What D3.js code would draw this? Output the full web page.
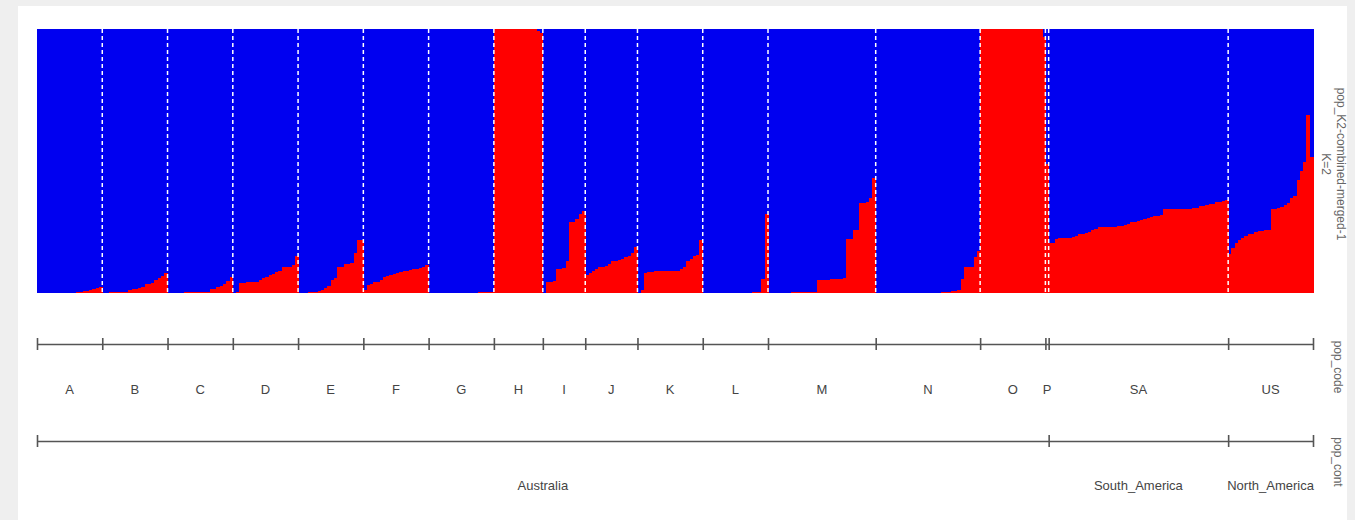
<!DOCTYPE html>
<html>
<head>
<meta charset="utf-8">
<script src="https://cdn.jsdelivr.net/npm/d3@7"></script>
<style>
  body { margin: 0; background: #efefef; }
  svg { display: block; font-family: "Liberation Sans", Arial, sans-serif; }
</style>
</head>
<body>
<svg id="chart"></svg>
<script>
const width = 1355;
const height = 520;
const margin = { left: 37, right: 42, top: 29 };
const plotBottom = 293;

// population codes and the continent each one belongs to
const popCodes = ["A", "B", "C", "D", "E", "F", "G", "H", "I", "J", "K", "L", "M", "N", "O", "P", "SA", "US"];
const popConts = [
  "Australia", "Australia", "Australia", "Australia", "Australia", "Australia",
  "Australia", "Australia", "Australia", "Australia", "Australia", "Australia",
  "Australia", "Australia", "Australia", "Australia", "South_America", "North_America",
];
const contNames = ["Australia", "South_America", "North_America"];

// membership in cluster 2 (red) per individual, cluster 1 (blue) is the rest
const qA = [0, 0, 0, 0, 0, 0, 0, 0, 0, 0, 0, 0, 0.003, 0.004, 0.006, 0.008, 0.01, 0.015, 0.02, 0.022];
const qB = [0.001, 0.001, 0.002, 0.002, 0.003, 0.003, 0.004, 0.005, 0.01, 0.014, 0.015, 0.02, 0.024, 0.033, 0.035, 0.038, 0.05, 0.055, 0.065, 0.076];
const qC = [0, 0, 0, 0, 0.001, 0.002, 0.002, 0.003, 0.003, 0.003, 0.004, 0.004, 0.005, 0.016, 0.016, 0.022, 0.025, 0.035, 0.045, 0.06];
const qD = [0, 0.005, 0.037, 0.037, 0.042, 0.042, 0.042, 0.043, 0.05, 0.055, 0.06, 0.07, 0.072, 0.08, 0.085, 0.1, 0.1, 0.1, 0.105, 0.14];
const qE = [0, 0, 0, 0.002, 0.003, 0.005, 0.008, 0.01, 0.02, 0.025, 0.05, 0.055, 0.1, 0.1, 0.11, 0.11, 0.115, 0.15, 0.2, 0.2];
const qF = [0.01, 0.03, 0.035, 0.04, 0.04, 0.05, 0.06, 0.065, 0.07, 0.072, 0.075, 0.08, 0.082, 0.085, 0.088, 0.09, 0.09, 0.093, 0.1, 0.105];
const qG = [0, 0, 0, 0, 0, 0, 0, 0, 0, 0, 0, 0, 0, 0, 0.001, 0.002, 0.002, 0.003, 0.004, 0.005];
const qH = [1, 1, 1, 1, 1, 1, 1, 1, 1, 1, 1, 1, 1, 0.993, 0.985];
const qI = [0, 0.04, 0.04, 0.045, 0.09, 0.09, 0.095, 0.12, 0.27, 0.27, 0.28, 0.3, 0.31];
const qJ = [0.07, 0.075, 0.085, 0.09, 0.097, 0.1, 0.103, 0.11, 0.12, 0.122, 0.125, 0.13, 0.138, 0.14, 0.15, 0.175];
const qK = [0, 0.01, 0.075, 0.078, 0.08, 0.082, 0.082, 0.083, 0.083, 0.083, 0.083, 0.083, 0.085, 0.09, 0.1, 0.12, 0.13, 0.14, 0.145, 0.2];
const qL = [0, 0, 0, 0, 0, 0, 0, 0, 0, 0, 0, 0, 0, 0, 0, 0.002, 0.003, 0.005, 0.053, 0.3];
const qM = [0, 0, 0, 0, 0, 0, 0, 0.002, 0.003, 0.003, 0.004, 0.004, 0.005, 0.005, 0.005,
  0.05, 0.05, 0.05, 0.051, 0.052, 0.052, 0.053, 0.054, 0.055, 0.205, 0.205, 0.24, 0.24,
  0.34, 0.34, 0.345, 0.36, 0.434];
const qN = [0, 0, 0, 0, 0, 0, 0, 0, 0, 0, 0, 0, 0, 0, 0, 0, 0, 0, 0, 0,
  0.003, 0.004, 0.005, 0.006, 0.008, 0.01, 0.052, 0.097, 0.097, 0.1, 0.137, 0.16];
const qO = [1, 1, 1, 1, 1, 1, 1, 1, 1, 1, 1, 1, 1, 1, 1, 1, 1, 1, 1, 0.97];
const qP = [0.49];
const qSA = [0.19, 0.19, 0.205, 0.207, 0.207, 0.207, 0.208, 0.213, 0.215, 0.222, 0.222,
  0.226, 0.23, 0.239, 0.242, 0.249, 0.249, 0.25, 0.25, 0.25, 0.251, 0.252, 0.255, 0.258,
  0.262, 0.27, 0.27, 0.272, 0.275, 0.279, 0.283, 0.289, 0.29, 0.292, 0.295, 0.317, 0.317,
  0.318, 0.318, 0.318, 0.319, 0.319, 0.32, 0.32, 0.321, 0.322, 0.33, 0.331, 0.333, 0.336,
  0.338, 0.343, 0.345, 0.35, 0.352];
const qUS = [0.148, 0.17, 0.19, 0.2, 0.21, 0.215, 0.223, 0.225, 0.23, 0.236, 0.236, 0.237,
  0.238, 0.32, 0.32, 0.322, 0.325, 0.335, 0.342, 0.36, 0.369, 0.428, 0.462, 0.497, 0.674, 0.514];

const popValues = [qA, qB, qC, qD, qE, qF, qG, qH, qI, qJ, qK, qL, qM, qN, qO, qP, qSA, qUS];

const blue = "#0000f0";
const red = "#ff0000";
const axisColor = "#555";
const textColor = "#444";

const individuals = popValues.flatMap((vals, p) =>
  vals.map((q) => ({ pop: popCodes[p], q }))
);
individuals.forEach((d, i) => (d.i = i));

// cumulative boundaries of populations
const popBounds = [0];
popValues.forEach((v) => popBounds.push(popBounds[popBounds.length - 1] + v.length));
const total = popBounds[popBounds.length - 1];

const contBounds = [0];
contNames.forEach((c) => {
  const last = popConts.lastIndexOf(c);
  contBounds.push(popBounds[last + 1]);
});

const xScale = d3
  .scaleLinear()
  .domain([0, total])
  .range([margin.left, width - margin.right]);

const yScale = d3.scaleLinear().domain([0, 1]).range([plotBottom, margin.top]);

const svg = d3.select("#chart").attr("width", width).attr("height", height);

// white panel on grey page
svg
  .append("rect")
  .attr("x", 18)
  .attr("y", 6)
  .attr("width", 1329)
  .attr("height", height)
  .attr("fill", "#fff");

const bars = svg.append("g").attr("shape-rendering", "crispEdges");

bars
  .selectAll(".blue")
  .data(individuals)
  .join("rect")
  .attr("class", "blue")
  .attr("x", (d) => xScale(d.i))
  .attr("width", (d) => xScale(d.i + 1) - xScale(d.i) + 0.5)
  .attr("y", yScale(1))
  .attr("height", (d) => yScale(d.q) - yScale(1))
  .attr("fill", blue);

bars
  .selectAll(".red")
  .data(individuals)
  .join("rect")
  .attr("class", "red")
  .attr("x", (d) => xScale(d.i))
  .attr("width", (d) => xScale(d.i + 1) - xScale(d.i) + 0.5)
  .attr("y", (d) => yScale(d.q))
  .attr("height", (d) => yScale(0) - yScale(d.q))
  .attr("fill", red);

// dashed separators between populations
svg
  .append("g")
  .selectAll("line")
  .data(popBounds.slice(1, -1))
  .join("line")
  .attr("x1", (d) => xScale(d))
  .attr("x2", (d) => xScale(d))
  .attr("y1", yScale(1))
  .attr("y2", yScale(0))
  .attr("stroke", "#fff")
  .attr("stroke-width", 1.5)
  .attr("stroke-dasharray", "4,3");

const drawAxis = (bounds, y) => {
  const axis = d3
    .axisBottom(xScale)
    .tickValues(bounds)
    .tickFormat("")
    .tickSizeOuter(0)
    .tickSizeInner(6);
  svg
    .append("g")
    .attr("transform", `translate(0, ${y})`)
    .call(axis)
    .call((g) => {
      g.select(".domain").attr("stroke", axisColor).attr("stroke-width", 1.6);
      g.selectAll(".tick line")
        .attr("y1", -6)
        .attr("y2", 6)
        .attr("stroke", axisColor)
        .attr("stroke-width", 1.6);
    });
};

drawAxis(popBounds, 344);
drawAxis(contBounds, 441);

svg
  .append("g")
  .selectAll("text")
  .data(popCodes)
  .join("text")
  .attr("x", (d, i) => (xScale(popBounds[i]) + xScale(popBounds[i + 1])) / 2)
  .attr("y", 394)
  .attr("text-anchor", "middle")
  .attr("font-size", 13)
  .attr("fill", textColor)
  .text((d) => d);

svg
  .append("g")
  .selectAll("text")
  .data(contNames)
  .join("text")
  .attr("x", (d, i) => (xScale(contBounds[i]) + xScale(contBounds[i + 1])) / 2)
  .attr("y", 490)
  .attr("text-anchor", "middle")
  .attr("font-size", 13)
  .attr("fill", textColor)
  .text((d) => d);

// rotated labels on the right
const sideLabel = (txt, x, y) =>
  svg
    .append("text")
    .attr("transform", `translate(${x}, ${y}) rotate(90)`)
    .attr("text-anchor", "middle")
    .attr("font-size", 12)
    .attr("fill", "#666")
    .text(txt);

sideLabel("pop_K2-combined-merged-1", 1337, 164);
sideLabel("K=2", 1322, 164);
sideLabel("pop_code", 1334, 367);
sideLabel("pop_cont", 1334, 462);
</script>
</body>
</html>
